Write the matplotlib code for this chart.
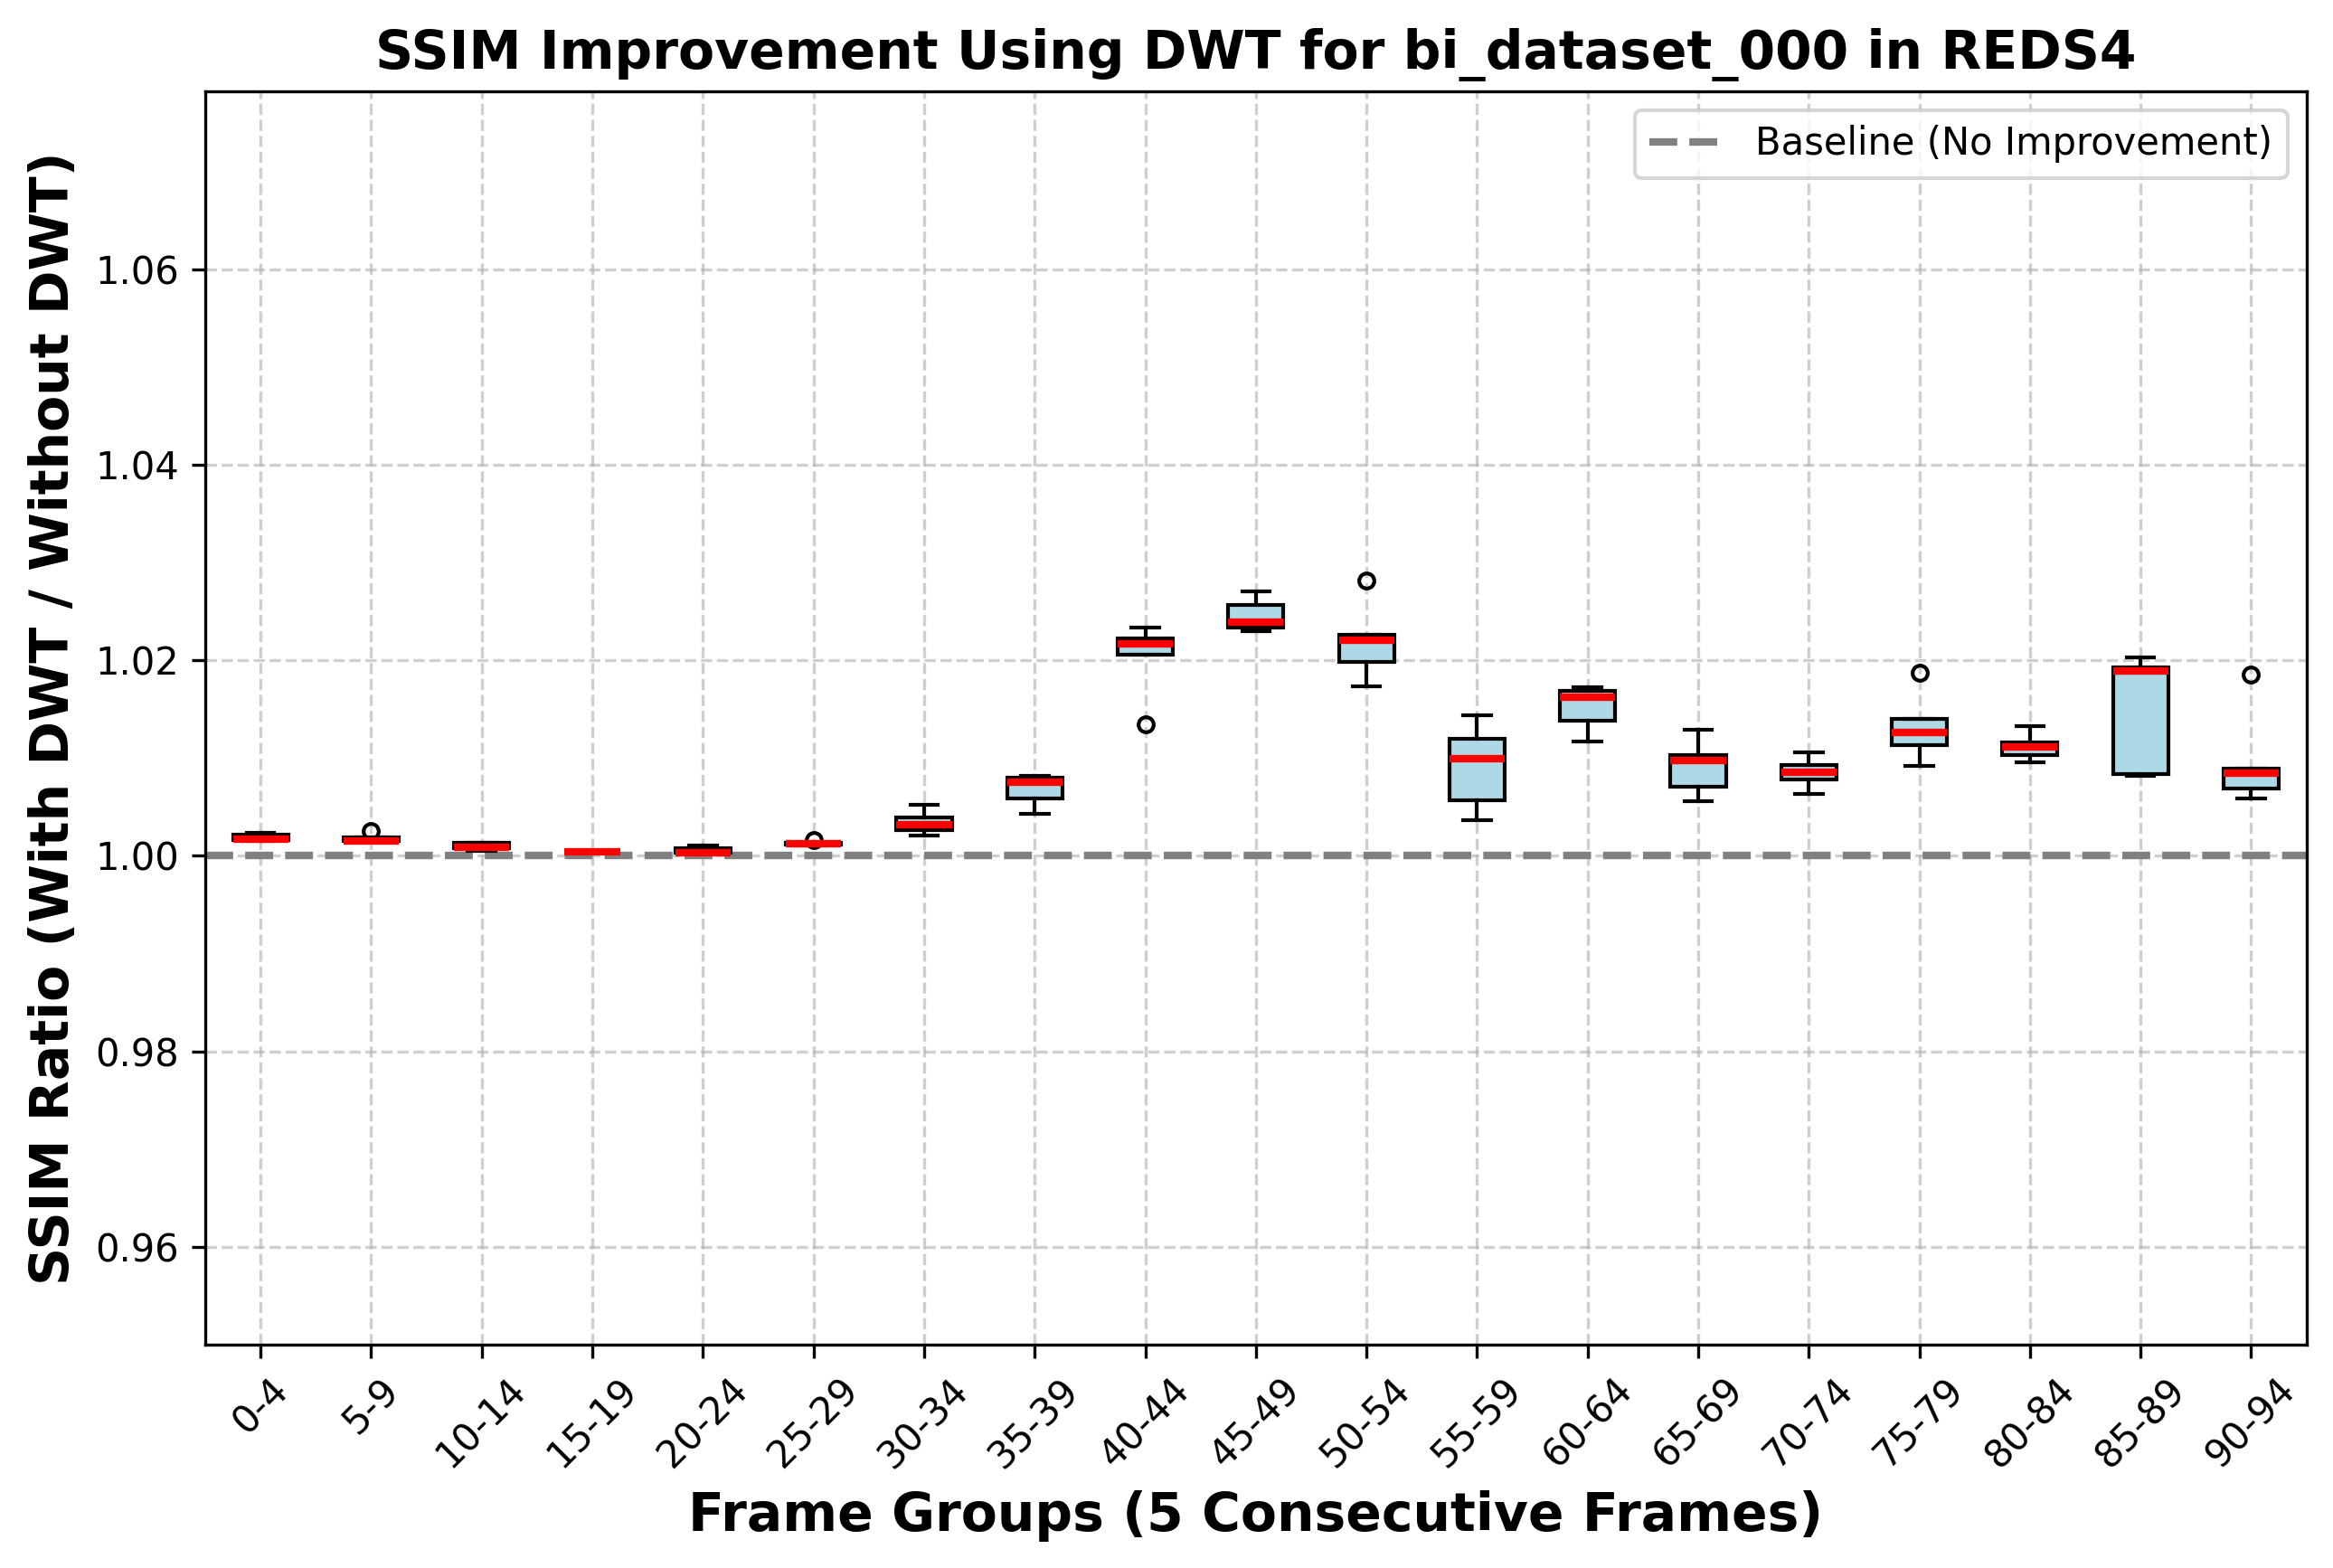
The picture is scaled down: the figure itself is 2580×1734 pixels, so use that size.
import matplotlib
matplotlib.use("Agg")
import matplotlib.pyplot as plt

# frame groups (5 consecutive frames each)
group_labels = ['0-4', '5-9', '10-14', '15-19', '20-24', '25-29', '30-34',
                '35-39', '40-44', '45-49', '50-54', '55-59', '60-64',
                '65-69', '70-74', '75-79', '80-84', '85-89', '90-94']

# SSIM ratio (with DWT / without DWT) per frame
g00 = [1.0015, 1.0016, 1.00175, 1.0022, 1.0024]
g05 = [1.0014, 1.0015, 1.00152, 1.00186, 1.0025]
g10 = [1.00046, 1.0008, 1.00092, 1.0013, 1.00132]
g15 = [1.0004, 1.00042, 1.00043, 1.00045, 1.00047]
g20 = [1.0002, 1.0003, 1.00034, 1.00077, 1.00108]
g25 = [1.0011, 1.00118, 1.00126, 1.0013, 1.00165]
g30 = [1.00212, 1.00262, 1.00323, 1.00392, 1.00526]
g35 = [1.00434, 1.00585, 1.00757, 1.008, 1.00815]
g40 = [1.01345, 1.02055, 1.02169, 1.02222, 1.02335]
g45 = [1.02298, 1.02338, 1.02391, 1.02563, 1.02705]
g50 = [1.01735, 1.01988, 1.02206, 1.02258, 1.02818]
g55 = [1.00369, 1.00569, 1.00997, 1.0120, 1.0144]
g60 = [1.01169, 1.01378, 1.01625, 1.01692, 1.01723]
g65 = [1.00563, 1.00708, 1.00978, 1.01034, 1.01292]
g70 = [1.00637, 1.00778, 1.00855, 1.00932, 1.01062]
g75 = [1.00923, 1.01129, 1.01265, 1.014, 1.01868]
g80 = [1.0096, 1.01028, 1.01117, 1.0116, 1.01329]
g85 = [1.00815, 1.0084, 1.01892, 1.01926, 1.02031]
g90 = [1.00591, 1.00692, 1.00849, 1.00892, 1.01858]

ratios = [g00, g05, g10, g15, g20, g25, g30, g35, g40, g45,
          g50, g55, g60, g65, g70, g75, g80, g85, g90]

fig = plt.figure(figsize=(8.6, 5.78), dpi=300)
ax = fig.add_axes([0.088, 0.1424, 0.9006, 0.7994])

# baseline first so the boxes sit on top of it
ax.axhline(1.0, color='gray', linestyle='--', linewidth=2,
           label='Baseline (No Improvement)')

ax.boxplot(ratios, patch_artist=True,
           boxprops=dict(facecolor='lightblue'),
           medianprops=dict(color='red', linewidth=2),
           flierprops=dict(marker='o', markersize=4))

ax.set_xticks(range(1, len(group_labels) + 1))
ax.set_xticklabels(group_labels, rotation=45)
ax.set_ylim(0.95, 1.0782)

ax.set_title('SSIM Improvement Using DWT for bi_dataset_000 in REDS4',
             fontsize=14, fontweight='bold')
ax.set_xlabel('Frame Groups (5 Consecutive Frames)', fontsize=14, fontweight='bold')
ax.set_ylabel('SSIM Ratio (With DWT / Without DWT)', fontsize=14, fontweight='bold')
ax.grid(True, linestyle='--', alpha=0.6)
ax.legend(loc='upper right')

fig.savefig('out.png', dpi=300)
